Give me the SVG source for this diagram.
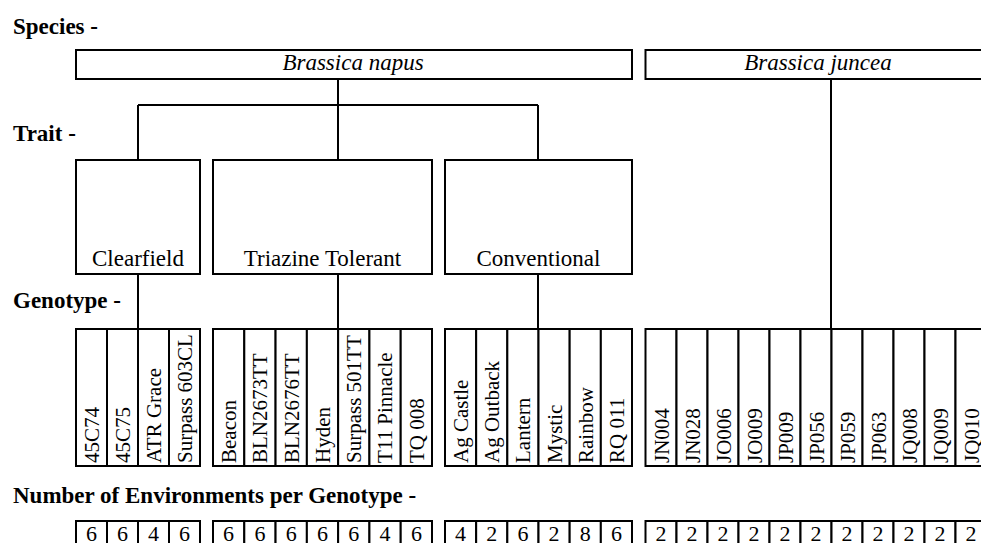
<svg xmlns="http://www.w3.org/2000/svg" width="981" height="543" viewBox="0 0 981 543">
<style>
.box{fill:#fff;stroke:#000;stroke-width:2}
.ln{fill:none;stroke:#000;stroke-width:2}
.lbl{font-family:"Liberation Serif","Times New Roman",serif;font-weight:bold;font-size:23px;fill:#000}
.sp{font-family:"Liberation Serif","Times New Roman",serif;font-style:italic;font-size:23px;fill:#000;text-anchor:middle}
.tr{font-family:"Liberation Serif","Times New Roman",serif;font-size:23px;fill:#000;text-anchor:middle}
.gt{font-family:"Liberation Serif","Times New Roman",serif;font-size:21px;fill:#000}
.nm{font-family:"Liberation Serif","Times New Roman",serif;font-size:22px;fill:#000;text-anchor:middle}
</style>
<rect width="981" height="543" fill="#fff"/>
<g id="labels">
<text class="lbl" x="13" y="34">Species -</text>
<text class="lbl" x="13" y="141">Trait -</text>
<text class="lbl" x="13" y="308">Genotype -</text>
<text class="lbl" x="13" y="503">Number of Environments per Genotype -</text>
</g>
<g id="connectors">
<path class="ln" d="M338,79 V160 M138,105 H538 M138,105 V160 M538,105 V160"/>
<path class="ln" d="M138,274 V329 M338,274 V329 M538,274 V329"/>
<path class="ln" d="M831,79 V329"/>
</g>
<g id="species-napus"><rect class="box" x="76" y="50" width="556" height="29"/><text class="sp" x="353" y="70">Brassica napus</text></g>
<g id="species-juncea"><rect class="box" x="645.5" y="50" width="350" height="29"/><text class="sp" x="818" y="70">Brassica juncea</text></g>
<g id="trait-clearfield"><rect class="box" x="76" y="160" width="124" height="114"/><text class="tr" x="138" y="266">Clearfield</text></g>
<g id="trait-triazine"><rect class="box" x="213" y="160" width="219" height="114"/><text class="tr" x="322.5" y="266">Triazine Tolerant</text></g>
<g id="trait-conventional"><rect class="box" x="445" y="160" width="187" height="114"/><text class="tr" x="538.5" y="266">Conventional</text></g>
<g id="genotypes">
<g id="g-45C74"><rect class="box" x="76" y="329" width="31" height="137"/><text class="gt" transform="translate(99,463) rotate(-90)">45C74</text></g>
<g id="g-45C75"><rect class="box" x="107" y="329" width="31" height="137"/><text class="gt" transform="translate(130,463) rotate(-90)">45C75</text></g>
<g id="g-ATRGrace"><rect class="box" x="138" y="329" width="31" height="137"/><text class="gt" transform="translate(161,463) rotate(-90)">ATR Grace</text></g>
<g id="g-Surpass603CL"><rect class="box" x="169" y="329" width="31" height="137"/><text class="gt" transform="translate(192,463) rotate(-90)">Surpass 603CL</text></g>
<g id="g-Beacon"><rect class="box" x="213" y="329" width="31.29" height="137"/><text class="gt" transform="translate(236,463) rotate(-90)">Beacon</text></g>
<g id="g-BLN2673TT"><rect class="box" x="244.29" y="329" width="31.29" height="137"/><text class="gt" transform="translate(267.3,463) rotate(-90)">BLN2673TT</text></g>
<g id="g-BLN2676TT"><rect class="box" x="275.57" y="329" width="31.29" height="137"/><text class="gt" transform="translate(298.6,463) rotate(-90)">BLN2676TT</text></g>
<g id="g-Hyden"><rect class="box" x="306.86" y="329" width="31.29" height="137"/><text class="gt" transform="translate(329.9,463) rotate(-90)">Hyden</text></g>
<g id="g-Surpass501TT"><rect class="box" x="338.14" y="329" width="31.29" height="137"/><text class="gt" transform="translate(361.1,463) rotate(-90)">Surpass 501TT</text></g>
<g id="g-T11Pinnacle"><rect class="box" x="369.43" y="329" width="31.29" height="137"/><text class="gt" transform="translate(392.4,463) rotate(-90)">T11 Pinnacle</text></g>
<g id="g-TQ008"><rect class="box" x="400.71" y="329" width="31.29" height="137"/><text class="gt" transform="translate(423.7,463) rotate(-90)">TQ 008</text></g>
<g id="g-AgCastle"><rect class="box" x="445" y="329" width="31.17" height="137"/><text class="gt" transform="translate(468,463) rotate(-90)">Ag Castle</text></g>
<g id="g-AgOutback"><rect class="box" x="476.17" y="329" width="31.17" height="137"/><text class="gt" transform="translate(499.2,463) rotate(-90)">Ag Outback</text></g>
<g id="g-Lantern"><rect class="box" x="507.33" y="329" width="31.17" height="137"/><text class="gt" transform="translate(530.3,463) rotate(-90)">Lantern</text></g>
<g id="g-Mystic"><rect class="box" x="538.5" y="329" width="31.17" height="137"/><text class="gt" transform="translate(561.5,463) rotate(-90)">Mystic</text></g>
<g id="g-Rainbow"><rect class="box" x="569.67" y="329" width="31.17" height="137"/><text class="gt" transform="translate(592.7,463) rotate(-90)">Rainbow</text></g>
<g id="g-RQ011"><rect class="box" x="600.83" y="329" width="31.17" height="137"/><text class="gt" transform="translate(623.8,463) rotate(-90)">RQ 011</text></g>
<g id="g-JN004"><rect class="box" x="645.5" y="329" width="31" height="137"/><text class="gt" transform="translate(668.5,463) rotate(-90)">JN004</text></g>
<g id="g-JN028"><rect class="box" x="676.5" y="329" width="31" height="137"/><text class="gt" transform="translate(699.5,463) rotate(-90)">JN028</text></g>
<g id="g-JO006"><rect class="box" x="707.5" y="329" width="31" height="137"/><text class="gt" transform="translate(730.5,463) rotate(-90)">JO006</text></g>
<g id="g-JO009"><rect class="box" x="738.5" y="329" width="31" height="137"/><text class="gt" transform="translate(761.5,463) rotate(-90)">JO009</text></g>
<g id="g-JP009"><rect class="box" x="769.5" y="329" width="31" height="137"/><text class="gt" transform="translate(792.5,463) rotate(-90)">JP009</text></g>
<g id="g-JP056"><rect class="box" x="800.5" y="329" width="31" height="137"/><text class="gt" transform="translate(823.5,463) rotate(-90)">JP056</text></g>
<g id="g-JP059"><rect class="box" x="831.5" y="329" width="31" height="137"/><text class="gt" transform="translate(854.5,463) rotate(-90)">JP059</text></g>
<g id="g-JP063"><rect class="box" x="862.5" y="329" width="31" height="137"/><text class="gt" transform="translate(885.5,463) rotate(-90)">JP063</text></g>
<g id="g-JQ008"><rect class="box" x="893.5" y="329" width="31" height="137"/><text class="gt" transform="translate(916.5,463) rotate(-90)">JQ008</text></g>
<g id="g-JQ009"><rect class="box" x="924.5" y="329" width="31" height="137"/><text class="gt" transform="translate(947.5,463) rotate(-90)">JQ009</text></g>
<g id="g-JQ010"><rect class="box" x="955.5" y="329" width="31" height="137"/><text class="gt" transform="translate(978.5,463) rotate(-90)">JQ010</text></g>
</g>
<g id="environments">
<g id="n-45C74"><rect class="box" x="76" y="521" width="31" height="30"/><text class="nm" x="91.5" y="541">6</text></g>
<g id="n-45C75"><rect class="box" x="107" y="521" width="31" height="30"/><text class="nm" x="122.5" y="541">6</text></g>
<g id="n-ATRGrace"><rect class="box" x="138" y="521" width="31" height="30"/><text class="nm" x="153.5" y="541">4</text></g>
<g id="n-Surpass603CL"><rect class="box" x="169" y="521" width="31" height="30"/><text class="nm" x="184.5" y="541">6</text></g>
<g id="n-Beacon"><rect class="box" x="213" y="521" width="31.29" height="30"/><text class="nm" x="228.6" y="541">6</text></g>
<g id="n-BLN2673TT"><rect class="box" x="244.29" y="521" width="31.29" height="30"/><text class="nm" x="259.9" y="541">6</text></g>
<g id="n-BLN2676TT"><rect class="box" x="275.57" y="521" width="31.29" height="30"/><text class="nm" x="291.2" y="541">6</text></g>
<g id="n-Hyden"><rect class="box" x="306.86" y="521" width="31.29" height="30"/><text class="nm" x="322.5" y="541">6</text></g>
<g id="n-Surpass501TT"><rect class="box" x="338.14" y="521" width="31.29" height="30"/><text class="nm" x="353.8" y="541">6</text></g>
<g id="n-T11Pinnacle"><rect class="box" x="369.43" y="521" width="31.29" height="30"/><text class="nm" x="385.1" y="541">4</text></g>
<g id="n-TQ008"><rect class="box" x="400.71" y="521" width="31.29" height="30"/><text class="nm" x="416.4" y="541">6</text></g>
<g id="n-AgCastle"><rect class="box" x="445" y="521" width="31.17" height="30"/><text class="nm" x="460.6" y="541">4</text></g>
<g id="n-AgOutback"><rect class="box" x="476.17" y="521" width="31.17" height="30"/><text class="nm" x="491.8" y="541">2</text></g>
<g id="n-Lantern"><rect class="box" x="507.33" y="521" width="31.17" height="30"/><text class="nm" x="522.9" y="541">6</text></g>
<g id="n-Mystic"><rect class="box" x="538.5" y="521" width="31.17" height="30"/><text class="nm" x="554.1" y="541">2</text></g>
<g id="n-Rainbow"><rect class="box" x="569.67" y="521" width="31.17" height="30"/><text class="nm" x="585.2" y="541">8</text></g>
<g id="n-RQ011"><rect class="box" x="600.83" y="521" width="31.17" height="30"/><text class="nm" x="616.4" y="541">6</text></g>
<g id="n-JN004"><rect class="box" x="645.5" y="521" width="31" height="30"/><text class="nm" x="661" y="541">2</text></g>
<g id="n-JN028"><rect class="box" x="676.5" y="521" width="31" height="30"/><text class="nm" x="692" y="541">2</text></g>
<g id="n-JO006"><rect class="box" x="707.5" y="521" width="31" height="30"/><text class="nm" x="723" y="541">2</text></g>
<g id="n-JO009"><rect class="box" x="738.5" y="521" width="31" height="30"/><text class="nm" x="754" y="541">2</text></g>
<g id="n-JP009"><rect class="box" x="769.5" y="521" width="31" height="30"/><text class="nm" x="785" y="541">2</text></g>
<g id="n-JP056"><rect class="box" x="800.5" y="521" width="31" height="30"/><text class="nm" x="816" y="541">2</text></g>
<g id="n-JP059"><rect class="box" x="831.5" y="521" width="31" height="30"/><text class="nm" x="847" y="541">2</text></g>
<g id="n-JP063"><rect class="box" x="862.5" y="521" width="31" height="30"/><text class="nm" x="878" y="541">2</text></g>
<g id="n-JQ008"><rect class="box" x="893.5" y="521" width="31" height="30"/><text class="nm" x="909" y="541">2</text></g>
<g id="n-JQ009"><rect class="box" x="924.5" y="521" width="31" height="30"/><text class="nm" x="940" y="541">2</text></g>
<g id="n-JQ010"><rect class="box" x="955.5" y="521" width="31" height="30"/><text class="nm" x="971" y="541">2</text></g>
</g>
</svg>
